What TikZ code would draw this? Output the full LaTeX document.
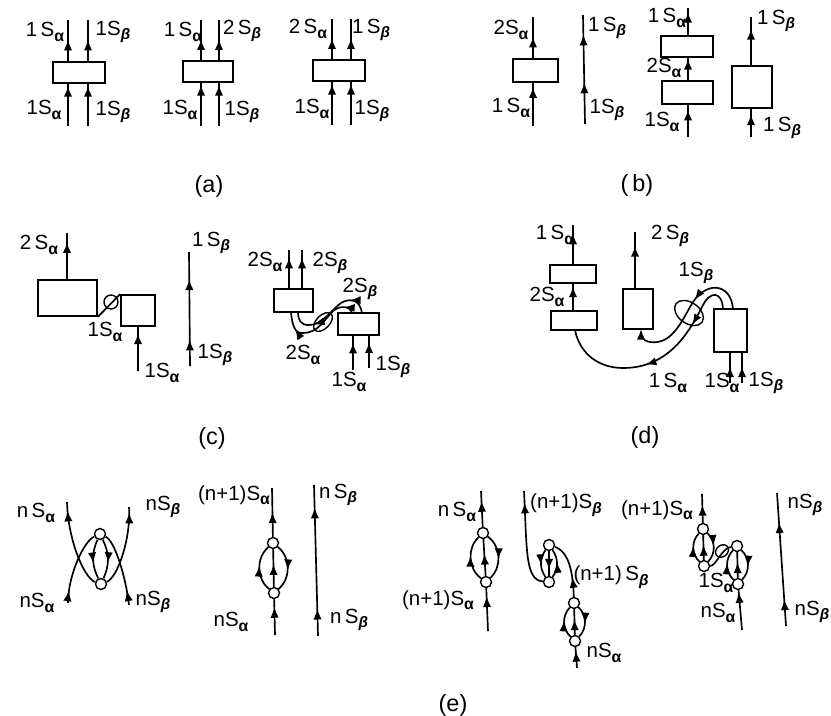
\documentclass[tikz,border=0pt]{standalone}
\usepackage{fontspec}
\setmainfont{Liberation Sans}
\usetikzlibrary{arrows.meta,decorations.markings,shapes.geometric}
\newcommand{\sA}{S\raisebox{-0.4ex}{\fontsize{13.5}{14}\selectfont\bfseries α}}
\newcommand{\sB}{S\raisebox{-0.4ex}{\fontsize{13}{14}\selectfont\bfseries\itshape β}}
\begin{document}
\begin{tikzpicture}[x=0.3mm, y=-0.3mm, >={Latex[length=3.2mm,width=2.5mm]}]
    \tikzset{
        wire/.style={line width=0.5mm},
        flow/.style={postaction={decorate,decoration={markings,mark=at position #1 with {\arrow{>}}}}},
        box/.style 2 args={rectangle, draw, line width=0.5mm, inner sep=0pt, minimum width=#1*0.3mm, minimum height=#2*0.3mm},
        vtx/.style={circle, draw, line width=0.42mm, fill=white, inner sep=0pt, minimum size=3.3mm},
        ring/.style={ellipse, draw, line width=0.42mm, inner sep=0pt},
        lobe/.style={line width=0.5mm},
        lab/.style={inner sep=0pt, font=\fontsize{17.5}{19}\selectfont},
        title/.style={inner sep=0pt, font=\fontsize{20}{22}\selectfont}
    }
    \useasboundingbox (0,0) rectangle (831,715);

    \node[box={52}{21}] (a1) at (79,72.5) {};
    \node[box={50}{21}] (a2) at (208,71.5) {};
    \node[box={52}{21}] (a3) at (339,70.5) {};
    \coordinate (a1pt) at (68,20);
    \coordinate (a1qt) at (88,20);
    \coordinate (a1pb) at (68,126);
    \coordinate (a1qb) at (88,126);
    \coordinate (a2pt) at (201,20);
    \coordinate (a2qt) at (219,20);
    \coordinate (a2pb) at (201,126);
    \coordinate (a2qb) at (219,126);
    \coordinate (a3pt) at (332,19);
    \coordinate (a3qt) at (351,19);
    \coordinate (a3pb) at (332,125);
    \coordinate (a3qb) at (351,125);
    \draw[wire, flow=.52] (a1.north -| a1pt) -- (a1pt);
    \draw[wire, flow=.52] (a1.north -| a1qt) -- (a1qt);
    \draw[wire, flow=.95] (a1pb) -- (a1pb |- a1.south);
    \draw[wire, flow=.95] (a1qb) -- (a1qb |- a1.south);
    \draw[wire, flow=.52] (a2.north -| a2pt) -- (a2pt);
    \draw[wire, flow=.52] (a2.north -| a2qt) -- (a2qt);
    \draw[wire, flow=.95] (a2pb) -- (a2pb |- a2.south);
    \draw[wire, flow=.95] (a2qb) -- (a2qb |- a2.south);
    \draw[wire, flow=.52] (a3.north -| a3pt) -- (a3pt);
    \draw[wire, flow=.52] (a3.north -| a3qt) -- (a3qt);
    \draw[wire, flow=.95] (a3pb) -- (a3pb |- a3.south);
    \draw[wire, flow=.95] (a3qb) -- (a3qb |- a3.south);
    \node[lab] (a1lp) at (45,32) {1\,\sA};
    \node[lab] (a1lq) at (113,32) {1\sB};
    \node[lab] (a1lr) at (44,110) {1\sA};
    \node[lab] (a1ls) at (113,112) {1\sB};
    \node[lab] (a2lp) at (183,32) {1\,\sA};
    \node[lab] (a2lq) at (242,31) {2\,\sB};
    \node[lab] (a2lr) at (180,110) {1\sA};
    \node[lab] (a2ls) at (242,112) {1\sB};
    \node[lab] (a3lp) at (308,29) {2\,\sA};
    \node[lab] (a3lq) at (371,30) {1\,\sB};
    \node[lab] (a3lr) at (312,109) {1\sA};
    \node[lab] (a3ls) at (372,111) {1\sB};
    \node[title] (capa) at (209,186) {(a)};

    \node[box={45}{23}] (b1) at (535.5,70.5) {};
    \node[box={52}{21}] (b2) at (687,46.5) {};
    \node[box={51}{23}] (b3) at (687.5,92.5) {};
    \node[box={40}{42}] (b4) at (752,87) {};
    \coordinate (b1pt) at (533,17);
    \coordinate (b1pb) at (533,126);
    \coordinate (bqt) at (583,15);
    \coordinate (bqb) at (585,124);
    \coordinate (b2pt) at (688,8);
    \coordinate (b3pb) at (688,137);
    \coordinate (b4pt) at (751,17);
    \coordinate (b4pb) at (751,137);
    \draw[wire, flow=.52] (b1.north -| b1pt) -- (b1pt);
    \draw[wire, flow=.9] (b1pb) -- (b1pb |- b1.south);
    \draw[wire, flow=.38, flow=.82] (bqb) -- (bqt);
    \draw[wire, flow=.85] (b2.north -| b2pt) -- (b2pt);
    \draw[wire, flow=.95] (b3.north -| b2pt) -- (b2.south -| b2pt);
    \draw[wire, flow=.85] (b3pb) -- (b3pb |- b3.south);
    \draw[wire, flow=.75] (b4.north -| b4pt) -- (b4pt);
    \draw[wire, flow=.8] (b4pb) -- (b4pb |- b4.south);
    \node[lab] (b1lp) at (511,30) {2\sA};
    \node[lab] (b1lr) at (511,108) {1\,\sA};
    \node[lab] (bql) at (607,28) {1\,\sB};
    \node[lab] (bqr) at (607,110) {1\sB};
    \node[lab] (b2l) at (667,18) {1\,\sA};
    \node[lab] (b3l) at (664,68) {2\sA};
    \node[lab] (b3r) at (662,122) {1\sA};
    \node[lab] (b4l) at (776,21) {1\,\sB};
    \node[lab] (b4r) at (782,128) {1\,\sB};
    \node[title] (capb) at (637,185) {(\,b)};

    \node[box={59}{36}] (c1) at (67.5,298) {};
    \node[box={34}{31}] (c2) at (138,310.5) {};
    \node[box={39}{23}] (c3) at (293.5,300.5) {};
    \node[box={41}{22}] (c4) at (358.5,324) {};
    \node[ring, minimum size=4.2mm] (c5) at (111,302) {};
    \node[ring, rotate=45, minimum width=6.9mm, minimum height=4mm] (c6) at (323,322) {};
    \coordinate (c1pt) at (67,233);
    \coordinate (c2pb) at (138,371);
    \coordinate (cqt) at (189,252);
    \coordinate (cqb) at (190,366);
    \coordinate (c3pt) at (289,250);
    \coordinate (c3qt) at (302,250);
    \coordinate (c3ps) at (291,312);
    \coordinate (c3qs) at (298,312);
    \coordinate (c4pn) at (352,313);
    \coordinate (c4qn) at (362,313);
    \coordinate (c4pb) at (353,370);
    \coordinate (c4qb) at (369,368);
    \draw[wire, flow=.8] (c1.north -| c1pt) -- (c1pt);
    \draw[wire] (c1.south east) -- (c2.north west);
    \draw[wire, flow=.85] (c2pb) -- (c2pb |- c2.south);
    \draw[wire, flow=.23, flow=.76] (cqb) -- (cqt);
    \draw[wire, flow=.8] (c3.north -| c3pt) -- (c3pt);
    \draw[wire, flow=.8] (c3.north -| c3qt) -- (c3qt);
    \draw[wire, flow=.8] (c4pb) -- (c4pb |- c4.south);
    \draw[wire, flow=.8] (c4qb) -- (c4qb |- c4.south);
    \draw[wire, flow=.22, flow=.72] (c4qn) .. controls (360,299) and (349,298) .. (341,303) .. controls (332,309) and (322,326) .. (308,325) .. controls (301,325) and (298,320) .. (c3qs);
    \draw[wire, flow=.12, flow=.8] (c4pn) .. controls (350,306) and (340,305) .. (333,311) .. controls (324,320) and (318,333) .. (303,333) .. controls (295,334) and (292,325) .. (c3ps);
    \node[lab] (c1l) at (39,245) {2\,\sA};
    \node[lab] (c2l) at (105,332) {1\sA};
    \node[lab] (c2r) at (162,373) {1\sA};
    \node[lab] (cql) at (211,243) {1\,\sB};
    \node[lab] (cqr) at (215,355) {1\sB};
    \node[lab] (c3l) at (265,262) {2\sA};
    \node[lab] (c3r) at (330,263) {2\sB};
    \node[lab] (c4l) at (360,289) {2\sB};
    \node[lab] (c4r) at (303,355) {2\sA};
    \node[lab] (c4s) at (349,382) {1\sA};
    \node[lab] (c4t) at (393,367) {1\sB};
    \node[title] (capc) at (212,438) {(c)};

    \node[box={46}{18}] (d1) at (573,274) {};
    \node[box={46}{19}] (d2) at (574,320.5) {};
    \node[box={30}{40}] (d3) at (638,309) {};
    \node[box={33}{43}] (d4) at (730.5,330.5) {};
    \node[ring, rotate=-35, minimum width=9.6mm, minimum height=6.3mm] (d5) at (689,313) {};
    \coordinate (d1pt) at (573,225);
    \coordinate (d3pt) at (635,232);
    \coordinate (d4pb) at (730,383);
    \coordinate (d4qb) at (742,383);
    \coordinate (d4pn) at (723,309);
    \coordinate (d4qn) at (733,309);
    \coordinate (d3s) at (641,329);
    \coordinate (d2s) at (575,330);
    \draw[wire, flow=.78] (d1.north -| d1pt) -- (d1pt);
    \draw[wire, flow=.9] (d2.north -| d1pt) -- (d1.south -| d1pt);
    \draw[wire, flow=.75] (d3.north -| d3pt) -- (d3pt);
    \draw[wire, flow=.55] (d4pb) -- (d4pb |- d4.south);
    \draw[wire, flow=.55] (d4qb) -- (d4qb |- d4.south);
    \draw[wire, ->, flow=.4] (d4qn) .. controls (731,282) and (704,280) .. (690,307) .. controls (680,325) and (670,345) .. (650,342) .. controls (643,341) and (641,335) .. (d3s);
    \draw[wire, flow=.27, flow=.57] (d4pn) .. controls (722,291) and (710,290) .. (702,307) .. controls (690,330) and (670,368) .. (623,368) .. controls (600,368) and (580,355) .. (d2s);
    \node[lab] (d1l) at (555,235) {1\,\sA};
    \node[lab] (d2l) at (547,297) {2\sA};
    \node[lab] (d3l) at (670,236) {2\,\sB};
    \node[lab] (d4l) at (696,273) {1\sB};
    \node[lab] (d4r) at (668,383) {1\,\sA};
    \node[lab] (d4s) at (722,383) {1\sA};
    \node[lab] (d4t) at (766,383) {1\sB};
    \node[title] (capd) at (645,437) {(d)};

    \node[vtx] (e1t) at (100,534) {};
    \node[vtx] (e1b) at (101,584) {};
    \node[vtx] (e2t) at (273,543) {};
    \node[vtx] (e2b) at (274,593) {};
    \node[vtx] (e3t) at (483,533) {};
    \node[vtx] (e3b) at (486,582) {};
    \node[vtx] (e4t) at (549,545) {};
    \node[vtx] (e4b) at (549,582) {};
    \node[vtx] (e6t) at (574,603) {};
    \node[vtx] (e6b) at (575,641) {};
    \node[vtx] (e7t) at (703,529) {};
    \node[vtx] (e7b) at (704,566) {};
    \node[vtx] (e8t) at (737,546) {};
    \node[vtx] (e8b) at (738,584) {};
    \node[ring, rotate=40, minimum width=4.2mm, minimum height=3.4mm] (e7s) at (722,551) {};
    \coordinate (e1nw) at (67,502);
    \coordinate (e1ne) at (129,507);
    \coordinate (e1sw) at (68,603);
    \coordinate (e1se) at (129,605);
    \coordinate (e2pt) at (272,488);
    \coordinate (e2pb) at (275,635);
    \coordinate (e2qt) at (314,485);
    \coordinate (e2qb) at (318,636);
    \coordinate (e3pt) at (481,491);
    \coordinate (e3pb) at (488,631);
    \coordinate (e4pt) at (524,491);
    \coordinate (e6pb) at (577,668);
    \coordinate (e7pt) at (702,494);
    \coordinate (e8pb) at (742,630);
    \coordinate (e9pt) at (777,493);
    \coordinate (e9pb) at (786,626);
    \draw[wire, flow=.9] (e1b) .. controls (84,578) and (68,540) .. (e1nw);
    \draw[wire, flow=.93] (e1b) .. controls (117,578) and (131,540) .. (e1ne);
    \draw[wire, flow=.17] (e1sw) .. controls (68,575) and (84,541) .. (e1t);
    \draw[wire, flow=.2] (e1se) .. controls (126,578) and (115,541) .. (e1t);
    \draw[wire, flow=.6] (e1t) to[bend right=25] (e1b);
    \draw[wire, flow=.6] (e1t) to[bend left=25] (e1b);
    \draw[wire, flow=.5] (e2t) -- (e2pt);
    \draw[wire, flow=.78] (e2pb) -- (e2b);
    \draw[wire, flow=.6] (e2b) -- (e2t);
    \draw[lobe, flow=.55] (e2b) to[bend left=50] (e2t);
    \draw[lobe, flow=.55] (e2t) to[bend left=50] (e2b);
    \draw[wire, flow=.18, flow=.85] (e2qb) -- (e2qt);
    \draw[wire, flow=.72] (e3t) -- (e3pt);
    \draw[wire, flow=.81] (e3pb) -- (e3b);
    \draw[wire, flow=.6] (e3b) -- (e3t);
    \draw[lobe, flow=.55] (e3b) to[bend left=50] (e3t);
    \draw[lobe, flow=.55] (e3t) to[bend left=50] (e3b);
    \draw[wire, flow=.88] (e4b) .. controls (525,580) and (527,550) .. (e4pt);
    \draw[wire, flow=.55] (e4t) to[bend right=35] (e4b);
    \draw[wire, flow=.55] (e4b) to[bend right=35] (e4t);
    \draw[wire, flow=.75] (e4t) -- (e4b);
    \draw[wire, flow=.35] (e6t) .. controls (573,575) and (570,552) .. (e4t);
    \draw[wire, flow=.6] (e6b) -- (e6t);
    \draw[lobe, flow=.55] (e6b) to[bend left=45] (e6t);
    \draw[lobe, flow=.55] (e6t) to[bend left=45] (e6b);
    \draw[wire, flow=.82] (e6pb) -- (e6b);
    \draw[wire, flow=.62] (e7t) -- (e7pt);
    \draw[wire, flow=.6] (e7b) -- (e7t);
    \draw[lobe, flow=.55] (e7b) to[bend left=45] (e7t);
    \draw[lobe, flow=.45] (e7t) to[bend left=45] (e7b);
    \draw[wire] (e7b) .. controls (716,566) and (722,548) .. (e8t);
    \draw[wire, flow=.6] (e8b) -- (e8t);
    \draw[lobe, flow=.55] (e8b) to[bend left=45] (e8t);
    \draw[lobe, flow=.55] (e8t) to[bend left=45] (e8b);
    \draw[wire, flow=.95] (e8pb) -- (e8b);
    \draw[wire, flow=.2, flow=.78] (e9pb) -- (e9pt);
    \node[lab] (e1lp) at (36,513) {n\,\sA};
    \node[lab] (e1lq) at (163,507) {n\sB};
    \node[lab] (e1lr) at (37,603) {n\sA};
    \node[lab] (e1ls) at (153,602) {n\sB};
    \node[lab] (e2lp) at (234,495) {(n+1)\sA};
    \node[lab] (e2lq) at (338,495) {n\,\sB};
    \node[lab] (e2lr) at (231,622) {n\sA};
    \node[lab] (e2ls) at (349,620) {n\,\sB};
    \node[lab] (e3lp) at (457,512) {n\,\sA};
    \node[lab] (e3lr) at (438,600) {(n+1)\sA};
    \node[lab] (e4lp) at (566,505) {(n+1)\sB};
    \node[lab] (e6lp) at (611,577) {(n+1)\,\sB};
    \node[lab] (e6lr) at (604,653) {n\sA};
    \node[lab] (e7lp) at (657,510) {(n+1)\sA};
    \node[lab] (e7lr) at (716,583) {1\sA};
    \node[lab] (e8lr) at (718,613) {n\sA};
    \node[lab] (e9lp) at (805,505) {n\sB};
    \node[lab] (e9lr) at (812,612) {n\sB};
    \node[title] (cape) at (453,705) {(e)};
\end{tikzpicture}
\end{document}
